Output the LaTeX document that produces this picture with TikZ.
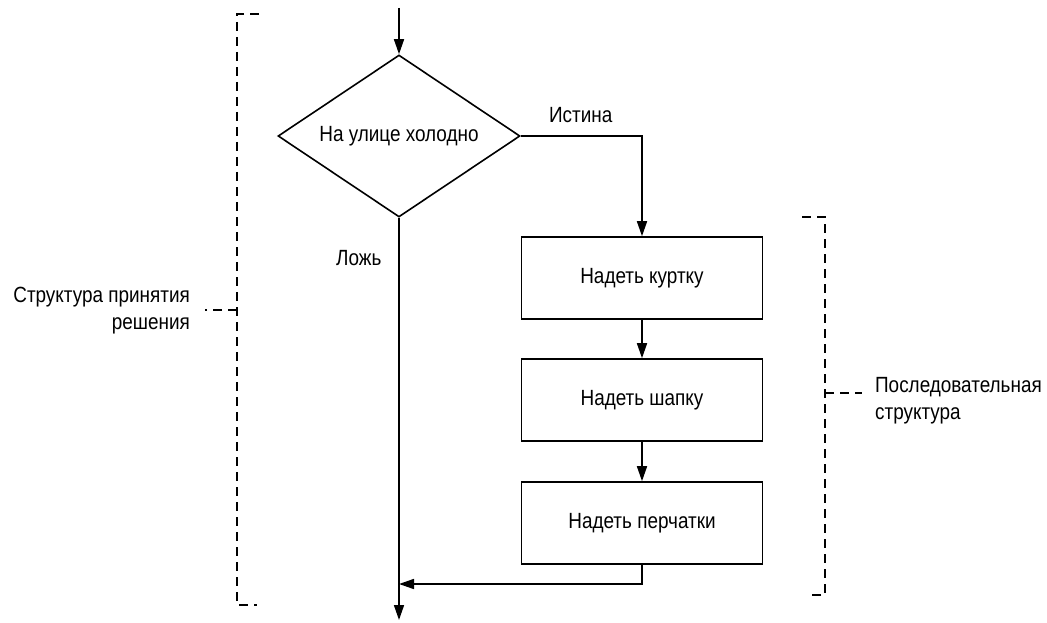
\documentclass[tikz,border=0pt]{standalone}
\usepackage{fontspec}
\setmainfont{Liberation Sans}[FakeStretch=0.86]
\usetikzlibrary{arrows.meta,shapes.geometric}
\begin{document}
\begin{tikzpicture}[x=1pt,y=-1pt,
  line width=1.6pt,
  every node/.style={font=\fontsize{22}{27}\selectfont},
  arr/.style={-{Triangle[length=15pt,width=10pt]}},
  stepbox/.style={draw,minimum width=241pt,minimum height=82pt,inner sep=0pt},
  dsh/.style={dashed,dash pattern=on 9pt off 6pt,line width=1.4pt}]
\useasboundingbox (0,0) rectangle (1047,623);
\node[draw,diamond,aspect=1.5,minimum width=242pt,minimum height=162pt,inner sep=0pt] (d) at (399,136) {};
\node at (399,136) {На улице холодно};
\coordinate (top) at (399,8);
\node[stepbox] (b1) at (642,278) {Надеть куртку};
\node[stepbox] (b2) at (642,400) {Надеть шапку};
\node[stepbox] (b3) at (642,523) {Надеть перчатки};
\coordinate (c1) at (642,136);
\coordinate (j) at (399,584);
\coordinate (c2) at (642,584);
\coordinate (end) at (399,620);
\draw[arr] (top) -- (d.north);
\draw[arr] (d.east) -- (c1) -- (b1.north);
\draw[arr] (b1) -- (b2);
\draw[arr] (b2) -- (b3);
\draw[arr] (b3.south) -- (c2) -- (j);
\draw[arr] (d.south) -- (end);
\node[anchor=west] (ist) at (545,115) {Истина};
\node[anchor=west] (lozh) at (332,258) {Ложь};
% left bracket
\coordinate (lt) at (237,14);
\coordinate (lb) at (237,605);
\draw[dsh] (259,14) -- (lt) -- (lb) -- (257,605);
\draw[dsh] (237,310) -- (205,310);
\node[anchor=east,align=right] (lbl1) at (194,311) {Структура принятия\\решения};
% right bracket
\draw[dsh] (802,217) -- (825,217) -- (825,595) -- (808,595);
\draw[dsh] (825,393) -- (862,393);
\node[anchor=west,align=left] (lbl2) at (871,401) {Последовательная\\структура};
\end{tikzpicture}
\end{document}
